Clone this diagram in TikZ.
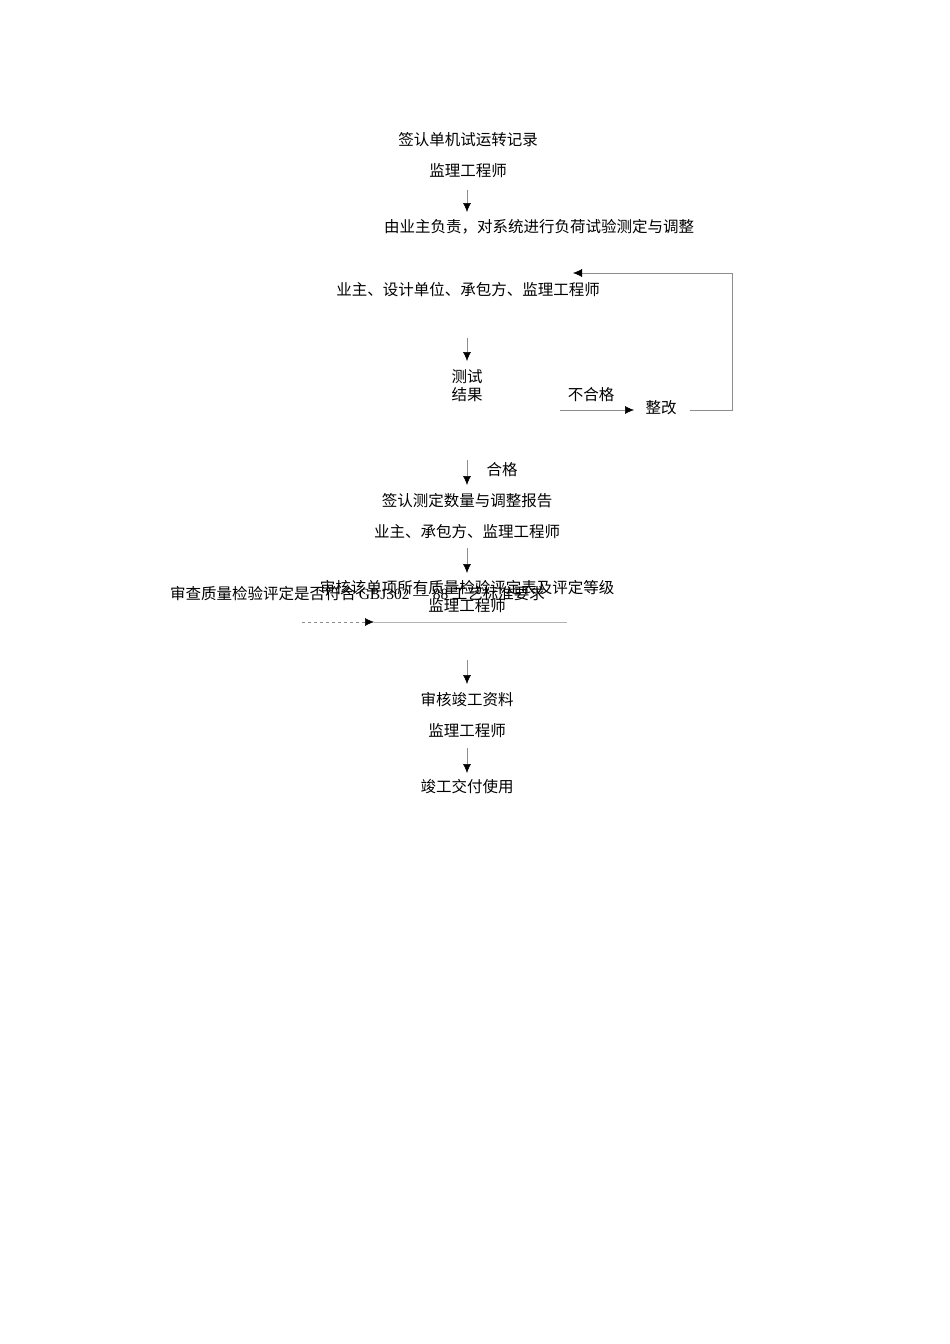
\documentclass[tikz,border=0pt]{standalone}
\usepackage{fontspec}
\setmainfont{Liberation Serif}
\newfontfamily\cjk{Noto Sans CJK SC}
\begin{document}
\begin{tikzpicture}[x=1pt,y=-1pt,
  lbl/.style={font=\cjk\fontsize{15.5}{18}\selectfont,inner sep=0pt},
  ln/.style={draw=black!45,line width=0.5pt},
  arr/.style={ln,-{Latex[length=9pt,width=8pt,black]}}]
\usetikzlibrary{arrows.meta}
\useasboundingbox (0,0) rectangle (950,1344);
\node[lbl] (n1) at (468,140) {签认单机试运转记录};
\node[lbl] (n2) at (468,171) {监理工程师};
\node[lbl] (n3) at (539,227) {由业主负责，对系统进行负荷试验测定与调整};
\node[lbl] (n4) at (468,290) {业主、设计单位、承包方、监理工程师};
\node[lbl,align=center] (n5) at (467,386) {测试\\结果};
\node[lbl] (bh) at (591,395) {不合格};
\node[lbl] (n6) at (661,408) {整改};
\node[lbl] (hg) at (502,470) {合格};
\node[lbl] (n7) at (467,501) {签认测定数量与调整报告};
\node[lbl] (n8) at (467,532) {业主、承包方、监理工程师};
\node[lbl] (n9) at (467,588) {审核该单项所有质量检验评定表及评定等级};
\node[lbl,anchor=west] (n10) at (170,594) {审查质量检验评定是否符合\,{\rmfamily GBJ302 — 88} 工艺标准要求};
\node[lbl] (n11) at (467,606) {监理工程师};
\node[lbl] (n12) at (467,700) {审核竣工资料};
\node[lbl] (n13) at (467,731) {监理工程师};
\node[lbl] (n14) at (467,787) {竣工交付使用};
\coordinate (a1) at (467,190); \coordinate (a2) at (467,212);
\draw[arr] (a1) -- (a2);
\coordinate (b1) at (467,338); \coordinate (b2) at (467,361);
\draw[arr] (b1) -- (b2);
\coordinate (c1) at (560,410); \coordinate (c2) at (634,410);
\draw[arr] (c1) -- (c2);
\coordinate (f1) at (690,410); \coordinate (f2) at (732,410);
\coordinate (f3) at (732,273); \coordinate (f4) at (573,273);
\draw[arr] (f1) -- (f2) -- (f3) -- (f4);
\coordinate (d1) at (467,460); \coordinate (d2) at (467,485);
\draw[arr] (d1) -- (d2);
\coordinate (e1) at (467,548); \coordinate (e2) at (467,573);
\draw[arr] (e1) -- (e2);
\coordinate (g1) at (302,622); \coordinate (g2) at (374,622); \coordinate (g3) at (567,622);
\draw[arr,dashed] (g1) -- (g2);
\draw[ln,draw=black!30] (g2) -- (g3);
\coordinate (h1) at (467,660); \coordinate (h2) at (467,684);
\draw[arr] (h1) -- (h2);
\coordinate (i1) at (467,748); \coordinate (i2) at (467,773);
\draw[arr] (i1) -- (i2);
\end{tikzpicture}
\end{document}
